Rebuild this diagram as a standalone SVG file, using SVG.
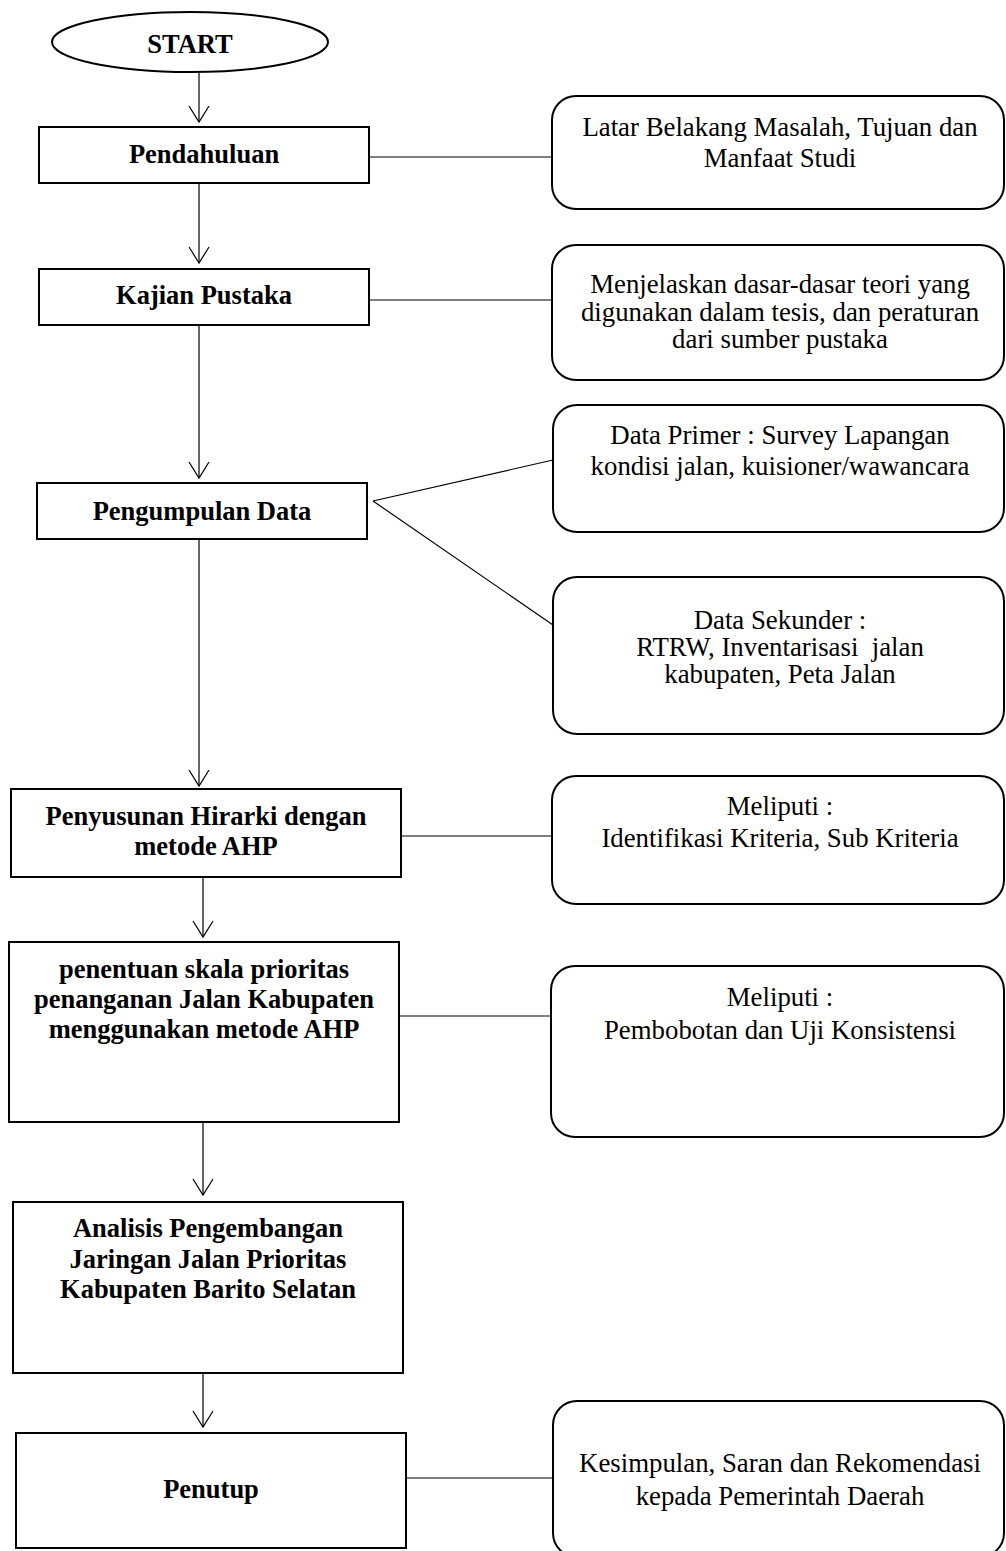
<svg xmlns="http://www.w3.org/2000/svg" width="1006" height="1551" viewBox="0 0 1006 1551">
<style>
.box{fill:#fff;stroke:#000;stroke-width:2}
.rbox{fill:#fff;stroke:#000;stroke-width:2}
.c{fill:none;stroke:#000;stroke-width:1.2}
.b{font-family:"Liberation Serif","Times New Roman",serif;font-weight:bold;font-size:26.5px;text-anchor:middle;fill:#000}
.t{font-family:"Liberation Serif","Times New Roman",serif;font-size:26.8px;text-anchor:middle;fill:#000}
</style>
<defs>
<marker id="arr" markerUnits="userSpaceOnUse" markerWidth="20" markerHeight="24" refX="0" refY="0" orient="auto" overflow="visible">
<path d="M-16,-10 L0,0 L-16,10" fill="none" stroke="#000" stroke-width="1.2"/>
</marker>
</defs>
<rect width="1006" height="1551" fill="#fff"/>
<g id="connectors">
<line class="c" x1="199" y1="72" x2="199" y2="122" marker-end="url(#arr)"/>
<line class="c" x1="199" y1="183" x2="199" y2="263" marker-end="url(#arr)"/>
<line class="c" x1="199" y1="325" x2="199" y2="478" marker-end="url(#arr)"/>
<line class="c" x1="199" y1="539" x2="199" y2="786" marker-end="url(#arr)"/>
<line class="c" x1="203" y1="877" x2="203" y2="937" marker-end="url(#arr)"/>
<line class="c" x1="203" y1="1122" x2="203" y2="1195" marker-end="url(#arr)"/>
<line class="c" x1="203" y1="1373" x2="203" y2="1427" marker-end="url(#arr)"/>
<line class="c" x1="369" y1="157" x2="552" y2="157"/>
<line class="c" x1="369" y1="300" x2="552" y2="300"/>
<line class="c" x1="373" y1="501" x2="553" y2="460"/>
<line class="c" x1="373" y1="501" x2="553" y2="625"/>
<line class="c" x1="401" y1="836" x2="552" y2="836"/>
<line class="c" x1="399" y1="1016" x2="551" y2="1016"/>
<line class="c" x1="406" y1="1478" x2="557" y2="1478"/>
</g>
<g id="start">
<ellipse class="box" cx="190" cy="42" rx="138" ry="30"/>
<text class="b" x="190" y="53">START</text>
</g>
<g id="pendahuluan">
<rect class="box" x="39" y="127" width="330" height="56"/>
<text class="b" x="204" y="163">Pendahuluan</text>
</g>
<g id="kajian">
<rect class="box" x="39" y="269" width="330" height="56"/>
<text class="b" x="204" y="304">Kajian Pustaka</text>
</g>
<g id="pengumpulan">
<rect class="box" x="37" y="483" width="330" height="56"/>
<text class="b" x="202" y="520">Pengumpulan Data</text>
</g>
<g id="penyusunan">
<rect class="box" x="11" y="789" width="390" height="88"/>
<text class="b" x="206" y="825">Penyusunan Hirarki dengan</text>
<text class="b" x="206" y="855">metode AHP</text>
</g>
<g id="penentuan">
<rect class="box" x="9" y="942" width="390" height="180"/>
<text class="b" x="204" y="978">penentuan skala prioritas</text>
<text class="b" x="204" y="1008">penanganan Jalan Kabupaten</text>
<text class="b" x="204" y="1038">menggunakan metode AHP</text>
</g>
<g id="analisis">
<rect class="box" x="13" y="1202" width="390" height="171"/>
<text class="b" x="208" y="1237">Analisis Pengembangan</text>
<text class="b" x="208" y="1268">Jaringan Jalan Prioritas</text>
<text class="b" x="208" y="1298">Kabupaten Barito Selatan</text>
</g>
<g id="penutup">
<rect class="box" x="16" y="1433" width="390" height="115"/>
<text class="b" x="211" y="1498">Penutup</text>
</g>
<g id="latar">
<rect class="rbox" x="552" y="96" width="452" height="113" rx="24" ry="24"/>
<text class="t" x="780" y="136">Latar Belakang Masalah, Tujuan dan</text>
<text class="t" x="780" y="167">Manfaat Studi</text>
</g>
<g id="menjelaskan">
<rect class="rbox" x="552" y="245" width="452" height="135" rx="24" ry="24"/>
<text class="t" x="780" y="293">Menjelaskan dasar-dasar teori yang</text>
<text class="t" x="780" y="321">digunakan dalam tesis, dan peraturan</text>
<text class="t" x="780" y="348">dari sumber pustaka</text>
</g>
<g id="primer">
<rect class="rbox" x="553" y="405" width="451" height="127" rx="24" ry="24"/>
<text class="t" x="780" y="444">Data Primer : Survey Lapangan</text>
<text class="t" x="780" y="475">kondisi jalan, kuisioner/wawancara</text>
</g>
<g id="sekunder">
<rect class="rbox" x="553" y="577" width="451" height="157" rx="24" ry="24"/>
<text class="t" x="780" y="629">Data Sekunder :</text>
<text class="t" x="780" y="656" xml:space="preserve">RTRW, Inventarisasi  jalan</text>
<text class="t" x="780" y="683">kabupaten, Peta Jalan</text>
</g>
<g id="meliputi1">
<rect class="rbox" x="552" y="776" width="452" height="128" rx="24" ry="24"/>
<text class="t" x="780" y="815">Meliputi :</text>
<text class="t" x="780" y="847">Identifikasi Kriteria, Sub Kriteria</text>
</g>
<g id="meliputi2">
<rect class="rbox" x="551" y="966" width="453" height="171" rx="24" ry="24"/>
<text class="t" x="780" y="1006">Meliputi :</text>
<text class="t" x="780" y="1039">Pembobotan dan Uji Konsistensi</text>
</g>
<g id="kesimpulan">
<rect class="rbox" x="553" y="1401" width="451" height="156" rx="24" ry="24"/>
<text class="t" x="780" y="1472">Kesimpulan, Saran dan Rekomendasi</text>
<text class="t" x="780" y="1505">kepada Pemerintah Daerah</text>
</g>
</svg>
